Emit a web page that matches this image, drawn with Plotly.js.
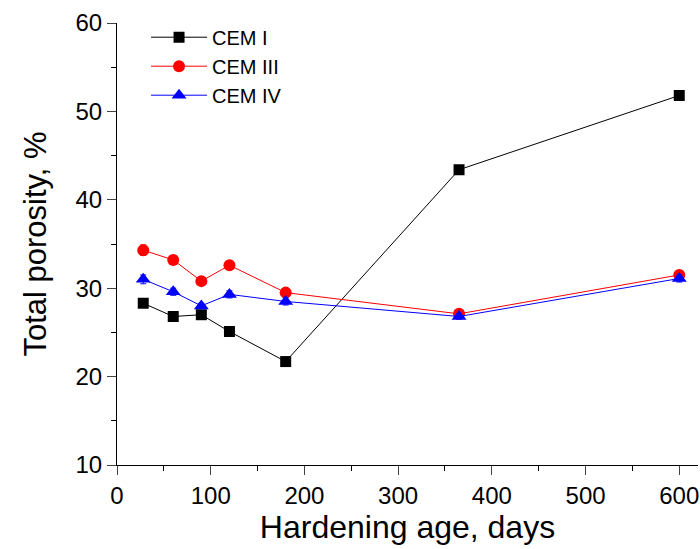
<!DOCTYPE html>
<html><head><meta charset="utf-8">
<script src="https://cdn.plot.ly/plotly-3.0.1.min.js"></script>
<style>html,body{margin:0;padding:0;background:#fff}#chart{width:700px;height:549px}</style>
</head><body><div id="chart"></div>
<script>
const days = [28, 60, 90, 120, 180, 365, 600];
const cem1 = [28.3, 26.8, 27.0, 25.1, 21.7, 43.4, 51.8];
const cem1Err = [0.3, 0.3, 0.4, 0.3, 0.3, 0.3, 0.5];
const cem3 = [34.3, 33.2, 30.8, 32.6, 29.5, 27.1, 31.5];
const cem3Err = [0.6, 0.3, 0.3, 0.4, 0.3, 0.3, 0.3];
const cem4 = [31.0, 29.6, 28.0, 29.3, 28.5, 26.8, 31.1];
const cem4Err = [0.5, 0.4, 0.3, 0.4, 0.4, 0.3, 0.4];
const names = ["CEM I", "CEM III", "CEM IV"];
const colors = ["#000000", "#ff0000", "#0000ff"];
const symbols = ["square", "circle", "triangle-up"];
const sizes = [11, 12, 13];
const ys = [cem1, cem3, cem4];
const errs = [cem1Err, cem3Err, cem4Err];

const traces = ys.map((y, i) => ({
  x: days, y: y, name: names[i], type: "scatter", mode: "lines+markers",
  line: {color: colors[i], width: 1},
  marker: {color: colors[i], symbol: symbols[i], size: sizes[i]},
  error_y: {type: "data", array: errs[i], visible: true, color: colors[i], thickness: 1, width: 3}
}));

const font = "Arial, 'Liberation Sans', sans-serif";
const layout = {
  width: 700, height: 549,
  margin: {l: 117, r: 2, t: 23, b: 84},
  paper_bgcolor: "#fff", plot_bgcolor: "#fff",
  showlegend: true,
  legend: {x: 0.05, y: 1.012, xanchor: "left", yanchor: "top", bgcolor: "rgba(0,0,0,0)",
           font: {family: font, size: 20, color: "#000"}, itemwidth: 56, tracegroupgap: 0},
  xaxis: {
    range: [0, 620], tickvals: [0,100,200,300,400,500,600], ticks: "outside", ticklen: 9, tickwidth: 1,
    showline: true, linecolor: "#000", linewidth: 1, showgrid: false, zeroline: false,
    tickfont: {family: font, size: 24, color: "#000"},
    minor: {tickvals: [50,150,250,350,450,550], ticks: "outside", ticklen: 5, tickcolor: "#000"},
    title: {text: "Hardening age, days", font: {family: font, size: 32, color: "#000"}, standoff: 4}
  },
  yaxis: {
    range: [10, 60], tickvals: [10,20,30,40,50,60], ticks: "outside", ticklen: 9, tickwidth: 1,
    showline: true, linecolor: "#000", linewidth: 1, showgrid: false, zeroline: false,
    tickfont: {family: font, size: 24, color: "#000"},
    minor: {tickvals: [15,25,35,45,55], ticks: "outside", ticklen: 5, tickcolor: "#000"},
    title: {text: "Total porosity, %", font: {family: font, size: 31, color: "#000"}, standoff: 19}
  }
};
Plotly.newPlot("chart", traces, layout, {displayModeBar: false});
</script></body></html>
